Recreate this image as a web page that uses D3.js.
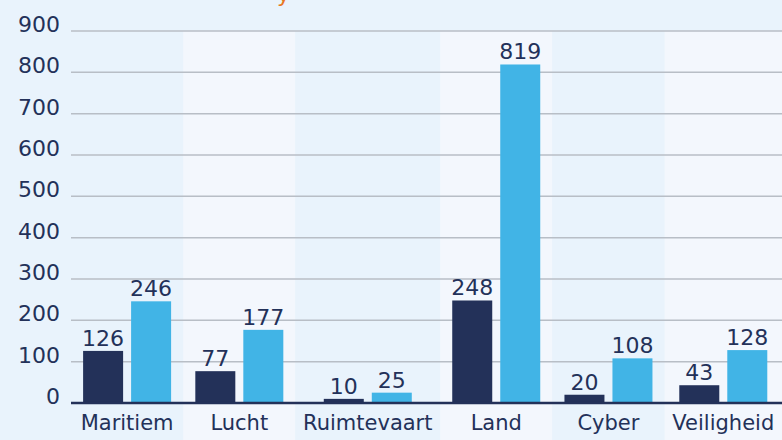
<!DOCTYPE html>
<html>
<head>
<meta charset="utf-8">
<script src="https://cdn.jsdelivr.net/npm/d3@7"></script>
<style>
  body { margin: 0; background: #e9f3fc; }
  svg { display: block; font-family: "DejaVu Sans", sans-serif; }
</style>
</head>
<body>
<svg id="chart" width="782" height="440"></svg>
<script>
// data
const categories = ["Maritiem", "Lucht", "Ruimtevaart", "Land", "Cyber", "Veiligheid"];
const seriesDark = [126, 77, 10, 248, 20, 43];
const seriesLight = [246, 177, 25, 819, 108, 128];
const yTicks = [0, 100, 200, 300, 400, 500, 600, 700, 800, 900];

const W = 782, H = 440;
const plotL = 71, plotR = 782, plotT = 31, plotB = 403;
const navy = "#233159", sky = "#41b4e6";

const svg = d3.select("#chart");

// orange tail of the cropped title above the chart
svg.append("text")
    .attr("x", 277).attr("y", 2)
    .attr("font-size", 22)
    .attr("fill", "#e87722")
    .text("y");

// measure the labels, each category gets a band wide enough for its label
const probe = svg.append("text").attr("font-size", 20);
const labelW = categories.map(c => probe.text(c).node().getComputedTextLength());
probe.remove();
const rawW = labelW.map(w => Math.max(108, w + 16));
const k = (plotR - plotL) / d3.sum(rawW);
const bandW = rawW.map(w => w * k);
const bandX = bandW.map((w, i) => plotL + d3.sum(bandW.slice(0, i)));

const y = d3.scaleLinear().domain([0, 900]).range([plotB, plotT]);
const inner = d3.scaleBand().domain(["dark", "light"]).range([0, 88]).paddingInner(1 / 6);

// alternating column backgrounds
svg.append("g").selectAll("rect")
    .data(categories)
    .join("rect")
    .attr("x", (d, i) => bandX[i])
    .attr("y", plotT)
    .attr("width", (d, i) => bandW[i])
    .attr("height", H - plotT)
    .attr("fill", (d, i) => i % 2 ? "#f3f7fd" : "#e9f3fc");

// gridlines
svg.append("g").selectAll("line")
    .data(yTicks.filter(t => t > 0))
    .join("line")
    .attr("x1", plotL).attr("x2", plotR)
    .attr("y1", d => y(d)).attr("y2", d => y(d))
    .attr("stroke", "#b8bec6")
    .attr("stroke-width", 1.5);

// y tick labels
svg.append("g").selectAll("text")
    .data(yTicks)
    .join("text")
    .attr("x", 60)
    .attr("y", d => y(d) + 1)
    .attr("text-anchor", "end")
    .attr("font-size", 22)
    .attr("fill", navy)
    .text(d => d);

// bars
const groups = svg.append("g").selectAll("g")
    .data(categories.map((c, i) => ({ c, i, vals: [["dark", seriesDark[i]], ["light", seriesLight[i]]] })))
    .join("g")
    .attr("transform", d => `translate(${bandX[d.i] + bandW[d.i] / 2 - 44},0)`);

groups.selectAll("rect")
    .data(d => d.vals)
    .join("rect")
    .attr("x", d => inner(d[0]))
    .attr("y", d => y(d[1]))
    .attr("width", inner.bandwidth())
    .attr("height", d => y(0) - y(d[1]))
    .attr("fill", d => d[0] === "dark" ? navy : sky);

groups.selectAll("text")
    .data(d => d.vals)
    .join("text")
    .attr("x", d => inner(d[0]) + inner.bandwidth() / 2)
    .attr("y", d => y(d[1]) - 5)
    .attr("text-anchor", "middle")
    .attr("font-size", 22)
    .attr("fill", navy)
    .text(d => d[1]);

// baseline
svg.append("line")
    .attr("x1", plotL).attr("x2", plotR)
    .attr("y1", y(0)).attr("y2", y(0))
    .attr("stroke", navy)
    .attr("stroke-width", 2.5);

// category labels
svg.append("g").selectAll("text")
    .data(categories)
    .join("text")
    .attr("x", (d, i) => bandX[i] + bandW[i] / 2)
    .attr("y", 430)
    .attr("text-anchor", "middle")
    .attr("font-size", 21)
    .attr("fill", navy)
    .text(d => d);
</script>
</body>
</html>
